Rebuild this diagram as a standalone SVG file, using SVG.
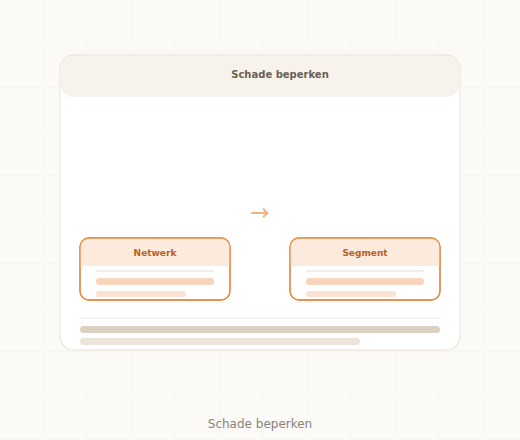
<svg xmlns="http://www.w3.org/2000/svg" width="520" height="440" viewBox="0 0 520 440">
<defs>
<pattern id="grid" width="44" height="44" patternUnits="userSpaceOnUse">
<path d="M44 0V44M0 44H44" fill="none" stroke="#f6f1ea" stroke-width="1"/>
</pattern>
<clipPath id="n1Clip"><rect x="80" y="238" width="150" height="62" rx="9"/></clipPath>
<clipPath id="n2Clip"><rect x="290" y="238" width="150" height="62" rx="9"/></clipPath>
</defs>
<style>
.t{font-family:"DejaVu Sans",sans-serif;}
.nodeTitle{font-size:9px;font-weight:bold;fill:#b8601e;text-anchor:middle;}
.nodeBox{fill:#ffffff;stroke:#e88b45;stroke-width:1.3;}
.nodeHead{fill:#fcebdd;}
.sep{fill:#f3eee9;}
.bar1{fill:#f9d5bc;}
.bar2{fill:#fbe2d2;}
</style>
<rect width="520" height="440" fill="#fcfaf6"/>
<rect width="520" height="440" fill="url(#grid)"/>
<g id="card">
<rect x="60" y="55" width="400" height="295" rx="14" fill="#ffffff" stroke="#eee8df" stroke-width="1.3"/>
<rect x="60.7" y="55.7" width="398.6" height="41.3" rx="13" fill="#f7f3ec"/>
<text class="t" x="280" y="78" font-size="10" font-weight="bold" fill="#6b5f55" text-anchor="middle">Schade beperken</text>
<rect x="80" y="317.5" width="360" height="1.5" class="sep"/>
<rect x="80" y="326" width="360" height="7" rx="3.5" fill="#ddd1c3"/>
<rect x="80" y="338" width="280" height="7" rx="3.5" fill="#ebe4da"/>
</g>
<g id="connectors">
<text class="t" x="260" y="220" font-size="23" fill="#f2b282" text-anchor="middle">→</text>
</g>
<g id="node-netwerk">
<rect x="80" y="238" width="150" height="62" rx="9" class="nodeBox"/>
<rect x="80" y="238" width="150" height="28" class="nodeHead" clip-path="url(#n1Clip)"/>
<rect x="80" y="238" width="150" height="62" rx="9" fill="none" stroke="#e88b45" stroke-width="1.3"/>
<text class="t nodeTitle" x="155" y="256">Netwerk</text>
<rect x="96" y="270" width="118" height="2" class="sep"/>
<rect x="96" y="278" width="118" height="7" rx="3.5" class="bar1"/>
<rect x="96" y="291" width="90" height="6" rx="3" class="bar2"/>
</g>
<g id="node-segment">
<rect x="290" y="238" width="150" height="62" rx="9" class="nodeBox"/>
<rect x="290" y="238" width="150" height="28" class="nodeHead" clip-path="url(#n2Clip)"/>
<rect x="290" y="238" width="150" height="62" rx="9" fill="none" stroke="#e88b45" stroke-width="1.3"/>
<text class="t nodeTitle" x="365" y="256">Segment</text>
<rect x="306" y="270" width="118" height="2" class="sep"/>
<rect x="306" y="278" width="118" height="7" rx="3.5" class="bar1"/>
<rect x="306" y="291" width="90" height="6" rx="3" class="bar2"/>
</g>
<text class="t" x="260" y="428" font-size="12" fill="#8a837c" text-anchor="middle">Schade beperken</text>
</svg>
